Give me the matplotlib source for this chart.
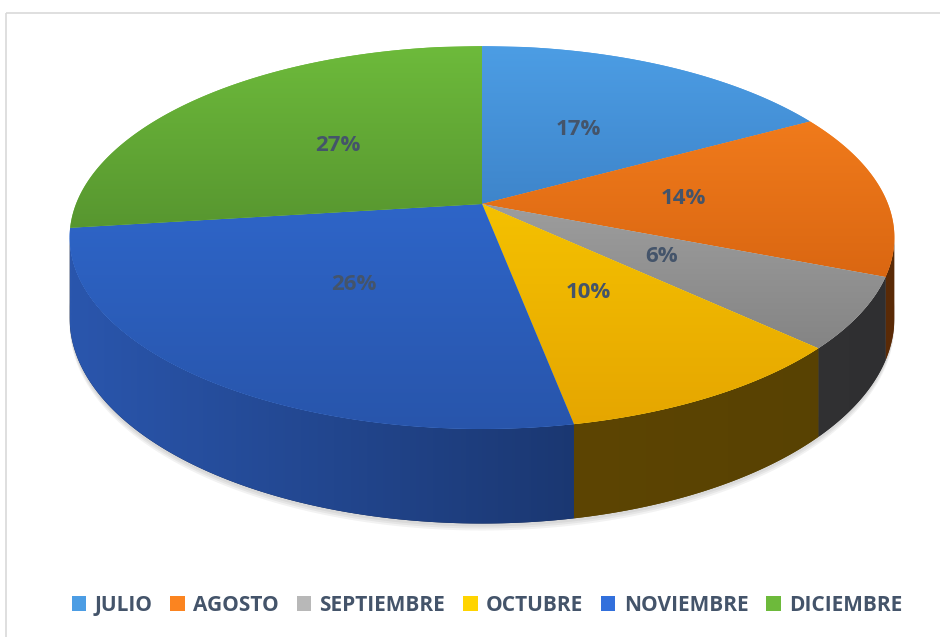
import numpy as np
import matplotlib.pyplot as plt
from matplotlib.patches import Polygon, Rectangle, Patch
from matplotlib.colors import to_rgba

# Datos del grafico
meses = ['JULIO', 'AGOSTO', 'SEPTIEMBRE', 'OCTUBRE', 'NOVIEMBRE', 'DICIEMBRE']
porcentajes = [17, 14, 6, 10, 26, 27]

# colores de la cara superior (claro arriba, oscuro abajo)
sup_claro = ['#4c9de4', '#fb8420', '#b8b8b8', '#ffd400', '#3270dc', '#6dba3b']
sup_oscuro = ['#2a62a6', '#c45308', '#767676', '#e5a500', '#2855ab', '#3f6e22']
# colores del lado (izquierda -> derecha)
lado_claro = ['#2a5a9a', '#7a3a0a', '#424244', '#664b02', '#2a56ad', '#3f6e22']
lado_oscuro = ['#1b3a66', '#5a2a06', '#2f2f31', '#574103', '#11244c', '#2d5018']
color_texto = '#44546a'
fuente = 'Open Sans'

# geometria (pixeles)
CX, CY = 482, 204
A, B, K = 406, 185.6, 0.175
D0 = 78


def proyectar(theta, r=1.0):
    t = np.radians(theta)
    u = r * np.sin(t)
    v = -r * np.cos(t)
    den = 1 - K * v
    return CX + A * u / den, CY + B * v / den


def proyectar_fondo(theta):
    x, y = proyectar(theta)
    v = -np.cos(np.radians(theta))
    return x, y + D0 / (1 - K * v)


def gradiente(ax, patch, c1, c2, vertical=True):
    n = 256
    c1 = np.array(to_rgba(c1))
    c2 = np.array(to_rgba(c2))
    f = np.linspace(0, 1, n)[:, None]
    img = c1 * (1 - f) + c2 * f
    if vertical:
        img = img[:, None, :]
        ext = (0, 940, 432, 47)
    else:
        img = img[None, :, :]
        ext = (70, 894, 540, 0)
    im = ax.imshow(img, extent=ext, origin='upper', aspect='auto',
                   interpolation='bilinear', zorder=patch.get_zorder())
    im.set_clip_path(patch)


fig = plt.figure(figsize=(9.4, 6.37), dpi=100)
ax = fig.add_axes([0, 0, 1, 1])
ax.set_xlim(0, 940)
ax.set_ylim(637, 0)
ax.axis('off')

# borde del area del grafico
ax.add_patch(Rectangle((6, 13), 1000, 1000, fill=False, edgecolor='#d9d9d9', lw=1.2))

angulos = np.cumsum([0] + [p * 360 / sum(porcentajes) for p in porcentajes])
sil_der = np.degrees(np.arccos(-K))
sil_izq = 360 - sil_der

# sombra suave bajo el pastel
ts = np.linspace(sil_der, sil_izq, 200)
for off in [7, 5, 3]:
    xs, ys = proyectar_fondo(ts)
    pts = np.column_stack([np.r_[xs, xs[::-1]], np.r_[ys + off, ys[::-1] - 20]])
    ax.add_patch(Polygon(pts, closed=True, facecolor='#000000', alpha=0.05,
                         edgecolor='none', zorder=0.5))

# lados visibles
for i in range(len(meses)):
    a0 = max(angulos[i], sil_der)
    a1 = min(angulos[i + 1], sil_izq)
    if a1 <= a0:
        continue
    t = np.linspace(a0, a1, 120)
    xt, yt = proyectar(t)
    xb, yb = proyectar_fondo(t[::-1])
    pts = np.column_stack([np.r_[xt, xb], np.r_[yt, yb]])
    p = Polygon(pts, closed=True, facecolor=lado_oscuro[i], edgecolor='none', zorder=1)
    ax.add_patch(p)
    gradiente(ax, p, lado_claro[i], lado_oscuro[i], vertical=False)

# caras superiores
for i in range(len(meses)):
    t = np.linspace(angulos[i], angulos[i + 1], 150)
    xt, yt = proyectar(t)
    pts = np.column_stack([np.r_[CX, xt], np.r_[CY, yt]])
    p = Polygon(pts, closed=True, facecolor=sup_claro[i], edgecolor='none', zorder=2)
    ax.add_patch(p)
    gradiente(ax, p, sup_claro[i], sup_oscuro[i])

# etiquetas de porcentaje
for i, p in enumerate(porcentajes):
    medio = (angulos[i] + angulos[i + 1]) / 2
    x, y = proyectar(medio, 0.5)
    ax.text(x, y, f'{p}%', ha='center', va='center', fontsize=16,
            fontweight='bold', color=color_texto, family=fuente, zorder=3)

ax.set_xlim(0, 940)
ax.set_ylim(637, 0)

handles = [Patch(facecolor=c, edgecolor='none') for c in sup_claro]
fig.legend(handles, meses, loc='center', bbox_to_anchor=(0.518, 0.05), ncol=6,
           frameon=False, handlelength=0.7, handleheight=0.7, handletextpad=0.4,
           columnspacing=0.85, labelcolor=color_texto,
           prop={'family': fuente, 'weight': 'bold', 'size': 15})

fig.savefig('out.png', dpi=100)
